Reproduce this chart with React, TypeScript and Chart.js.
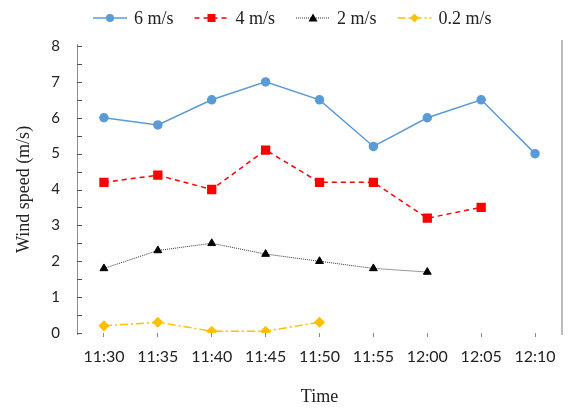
import React, { useEffect, useRef } from 'react';
import { Chart, registerables } from 'chart.js';

Chart.register(...registerables);

const times = ['11:30', '11:35', '11:40', '11:45', '11:50', '11:55', '12:00', '12:05', '12:10'];
const speed6 = [6.0, 5.8, 6.5, 7.0, 6.5, 5.2, 6.0, 6.5, 5.0];
const speed4 = [4.2, 4.4, 4.0, 5.1, 4.2, 4.2, 3.2, 3.5, null];
const speed2 = [1.8, 2.3, 2.5, 2.2, 2.0, 1.8, 1.7, null, null];
const speed02 = [0.2, 0.3, 0.05, 0.05, 0.3, null, null, null, null];
const seriesLabels = ['6 m/s', '4 m/s', '2 m/s', '0.2 m/s'];
const yTickLabels = ['0', '1', '2', '3', '4', '5', '6', '7', '8'];

const SERIF = '"Liberation Serif", "Times New Roman", serif';
const SANS = 'Lato, "Open Sans", sans-serif';

function drawMarker(ctx: CanvasRenderingContext2D, style: string, x: number, y: number, color: string) {
  ctx.save();
  ctx.fillStyle = color;
  ctx.setLineDash([]);
  ctx.beginPath();
  if (style === 'circle') {
    ctx.arc(x, y, 4, 0, Math.PI * 2);
  } else if (style === 'rect') {
    ctx.rect(x - 4, y - 4, 8, 8);
  } else if (style === 'triangle') {
    ctx.moveTo(x, y - 4.5);
    ctx.lineTo(x + 4.5, y + 3.5);
    ctx.lineTo(x - 4.5, y + 3.5);
    ctx.closePath();
  } else {
    ctx.moveTo(x, y - 4.5);
    ctx.lineTo(x + 4.5, y);
    ctx.lineTo(x, y + 4.5);
    ctx.lineTo(x - 4.5, y);
    ctx.closePath();
  }
  ctx.fill();
  ctx.restore();
}

const legendPlugin = {
  id: 'customLegend',
  afterDraw(chart: any) {
    const ctx: CanvasRenderingContext2D = chart.ctx;
    const ds = chart.data.datasets;
    let x = 93;
    const y = 18;
    ctx.save();
    ctx.font = `18px ${SERIF}`;
    ctx.textBaseline = 'middle';
    ds.forEach((d: any) => {
      ctx.strokeStyle = d.borderColor;
      ctx.lineWidth = d.borderWidth;
      ctx.setLineDash(d.borderDash || []);
      ctx.beginPath();
      ctx.moveTo(x, y);
      ctx.lineTo(x + 34, y);
      ctx.stroke();
      drawMarker(ctx, d.pointStyle, x + 17, y, d.pointBackgroundColor);
      ctx.fillStyle = '#222';
      ctx.fillText(d.label, x + 41, y + 1);
      const w = ctx.measureText(d.label).width;
      x += 41 + w + 21;
    });
    ctx.restore();
  },
};

const framePlugin = {
  id: 'frame',
  afterDraw(chart: any) {
    const ctx: CanvasRenderingContext2D = chart.ctx;
    const { left, right, top, bottom } = chart.chartArea;
    const ys = chart.scales.y;
    ctx.save();
    ctx.strokeStyle = '#8c8c8c';
    ctx.lineWidth = 1;
    ctx.beginPath();
    ctx.moveTo(left + 0.5, top - 2);
    ctx.lineTo(left + 0.5, bottom + 2);
    ctx.stroke();
    ctx.strokeStyle = '#555';
    for (let v = 0; v <= 8; v += 0.5) {
      const py = Math.round(ys.getPixelForValue(v)) + 0.5;
      ctx.beginPath();
      ctx.moveTo(left, py);
      ctx.lineTo(left + 5, py);
      ctx.stroke();
    }
    ctx.strokeStyle = '#a6a6a6';
    ctx.lineWidth = 1.5;
    ctx.beginPath();
    ctx.moveTo(right, top - 6);
    ctx.lineTo(right, bottom + 2);
    ctx.stroke();
    ctx.restore();
  },
};

export default function App() {
  const ref = useRef<HTMLCanvasElement>(null);
  useEffect(() => {
    document.body.style.margin = '0';
    const chart = new Chart(ref.current!, {
      type: 'line',
      data: {
        labels: times,
        datasets: [
          {
            label: seriesLabels[0],
            data: speed6,
            borderColor: '#5B9BD5',
            backgroundColor: '#5B9BD5',
            pointBackgroundColor: '#5B9BD5',
            pointBorderColor: '#5B9BD5',
            borderWidth: 1.5,
            pointStyle: 'circle',
            pointRadius: 4,
            tension: 0,
          },
          {
            label: seriesLabels[1],
            data: speed4,
            borderColor: '#FF0000',
            backgroundColor: '#FF0000',
            pointBackgroundColor: '#FF0000',
            pointBorderColor: '#FF0000',
            borderWidth: 1.5,
            borderDash: [5, 4],
            pointStyle: 'rect',
            pointRadius: 5.5,
            tension: 0,
          },
          {
            label: seriesLabels[2],
            data: speed2,
            borderColor: '#333333',
            backgroundColor: '#000000',
            pointBackgroundColor: '#000000',
            pointBorderColor: '#000000',
            borderWidth: 1,
            borderDash: [1, 1],
            pointStyle: 'triangle',
            pointRadius: 4.5,
            tension: 0,
          },
          {
            label: seriesLabels[3],
            data: speed02,
            borderColor: '#FFC000',
            backgroundColor: '#FFC000',
            pointBackgroundColor: '#FFC000',
            pointBorderColor: '#FFC000',
            borderWidth: 1.5,
            borderDash: [8, 3, 2, 3],
            pointStyle: 'rectRot',
            pointRadius: 4.5,
            tension: 0,
          },
        ],
      },
      options: {
        animation: false,
        responsive: false,
        maintainAspectRatio: false,
        layout: { padding: { top: 46, right: 3, bottom: 0, left: 0 } },
        plugins: {
          legend: { display: false },
          tooltip: { enabled: false },
        },
        scales: {
          x: {
            type: 'category',
            offset: true,
            border: { display: false },
            grid: {
              display: true,
              drawOnChartArea: false,
              drawTicks: true,
              tickLength: 4,
              color: '#8c8c8c',
              offset: false,
            },
            ticks: {
              color: '#222',
              font: { family: SANS, size: 16 },
              padding: 10,
              maxRotation: 0,
              autoSkip: false,
            },
            title: {
              display: true,
              text: 'Time',
              color: '#222',
              font: { family: SERIF, size: 18 },
              padding: { top: 1, bottom: 1 },
            },
            afterFit(scale: any) {
              scale.height = 76;
            },
          },
          y: {
            min: 0,
            max: 8,
            border: { display: false },
            grid: { display: false, drawTicks: false },
            ticks: {
              stepSize: 1,
              color: '#222',
              font: { family: SANS, size: 15 },
              padding: 17,
              callback: (v: any) => yTickLabels[Number(v)] ?? '',
            },
            title: {
              display: true,
              text: 'Wind speed (m/s)',
              color: '#222',
              font: { family: SERIF, size: 18 },
              padding: { top: 13, bottom: 0 },
            },
            afterFit(scale: any) {
              scale.width = 77;
            },
          },
        },
      },
      plugins: [legendPlugin, framePlugin],
    });
    return () => chart.destroy();
  }, []);
  return <canvas ref={ref} width={569} height={409} style={{ display: 'block', width: 569, height: 409 }} />;
}
